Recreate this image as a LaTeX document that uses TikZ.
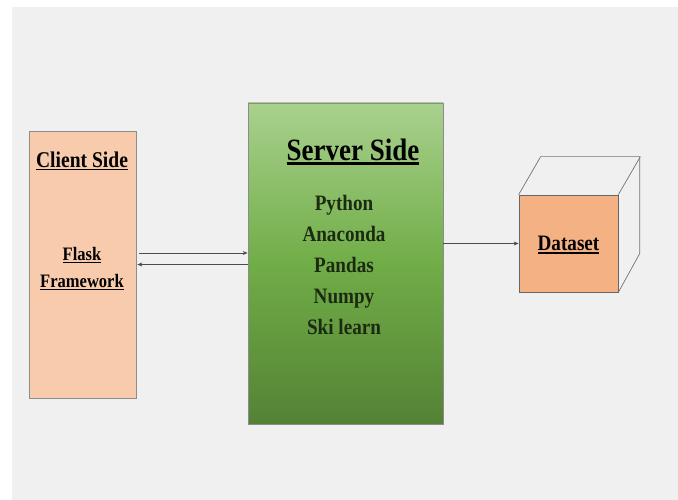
\documentclass[tikz,border=0pt]{standalone}
\usepackage{fontspec}
\setmainfont{Liberation Serif}[FakeStretch=0.87]
\newcommand\ulabel[1]{\sbox0{#1}\rlap{\rule[-0.13em]{\wd0}{0.07em}}\usebox0}
\usetikzlibrary{positioning,arrows.meta}
\definecolor{clientfill}{RGB}{248,203,173}
\definecolor{datafill}{RGB}{244,177,131}
\definecolor{greentop}{RGB}{169,209,142}
\definecolor{greenmid}{RGB}{112,173,71}
\definecolor{greenbot}{RGB}{84,130,53}
\definecolor{servertext}{RGB}{28,42,18}
\tikzset{
  box/.style={rectangle,draw=black!45,line width=0.7pt,inner sep=0pt},
  lbl/.style={font=\bfseries,align=center,inner sep=0pt,text height=0.7em,text depth=0.2em,yshift=-5pt},
  link/.style={draw=black!70,line width=0.8pt,-{Stealth[length=5pt,width=4pt]}},
  cubeline/.style={draw=black!55,line width=0.7pt}
}
\begin{document}
\begin{tikzpicture}[x=1pt,y=-1pt]
                \useasboundingbox (0,0) rectangle (678,500);
                \fill[black!6] (12,7) rectangle (678,500);

                \node[box, fill=clientfill, minimum width=107pt, minimum height=267pt] (client) at (82.5,264.5) {};
                \node[box, top color=greentop, bottom color=greenbot, middle color=greenmid, minimum width=195pt, minimum height=321pt] (server) at (345.5,263.5) {};
                \node[box, draw=black!60, fill=datafill, minimum width=99pt, minimum height=97pt, font=\bfseries\fontsize{22}{24}\selectfont] (data) at (568.5,243.5) {};
                \node[lbl, font=\bfseries\fontsize{22}{24}\selectfont] (datatitle) at (data) {\ulabel{Dataset}};

                \node[lbl, font=\bfseries\fontsize{22.5}{24}\selectfont] (clienttitle) at (82,160) {\ulabel{Client Side}};
                \node[lbl, font=\bfseries\fontsize{19}{21}\selectfont] (flask) at (82,253) {\ulabel{Flask}};
                \node[lbl, font=\bfseries\fontsize{19}{21}\selectfont] (framework) at (82,280) {\ulabel{Framework}};

                \node[lbl, font=\bfseries\fontsize{31}{33}\selectfont] (servertitle) at (353,153) {\ulabel{Server Side}};
                \foreach \lib [count=\i] in {Python,Anaconda,Pandas,Numpy,Ski learn}
                    \node[lbl, text=servertext, font=\bfseries\fontsize{22}{24}\selectfont] (lib\i) at (344,172+31*\i) {\lib};

                \draw[link, shorten <=3pt] ([yshift=11.5pt]client.east) -- ([yshift=11.5pt]client.east -| server.west);
                \draw[link, shorten >=1pt] (client.east -| server.west) -- (client.east);
                \draw[link] (server.east |- data.west) -- (data.west);

                \draw[cubeline] (data.north west) -- ++(22,-38) -- ++(99,0) -- ++(0,97) -- (data.south east);
                \draw[cubeline] (data.north east) -- ++(22,-38);
            \end{tikzpicture}
\end{document}
